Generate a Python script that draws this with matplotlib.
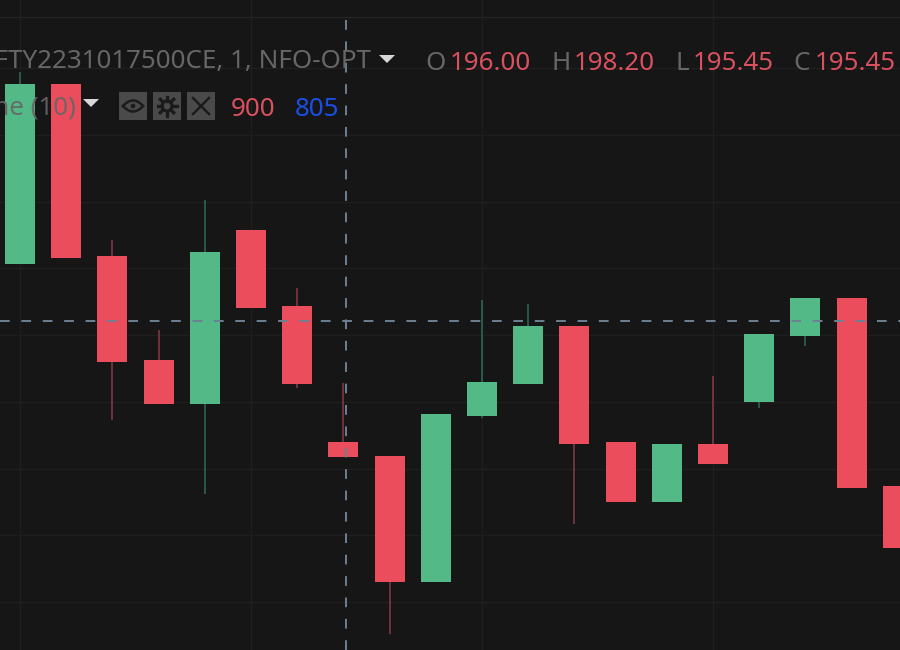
import numpy as np
import matplotlib
matplotlib.use("Agg")
import matplotlib.pyplot as plt
from matplotlib.patches import Rectangle, Polygon, Circle

plt.rcParams['font.family'] = ['Noto Sans', 'DejaVu Sans']

# candle values
opens  = [202.67, 209.41, 202.97, 199.07, 197.42, 203.94, 201.09, 196.00, 195.48, 190.76,
          196.97, 198.17, 200.34, 196.00, 193.75, 195.93, 197.50, 199.97, 201.39, 194.35]
highs  = [209.86, 209.41, 203.57, 200.19, 205.06, 203.94, 201.77, 198.20, 195.48, 197.05,
          201.32, 201.17, 200.34, 196.00, 195.93, 198.47, 200.04, 201.39, 201.39, 194.35]
lows   = [202.67, 202.89, 196.82, 197.42, 194.05, 201.02, 198.02, 195.45, 188.81, 190.76,
          196.90, 198.17, 192.93, 193.75, 193.75, 195.18, 197.27, 199.60, 194.28, 192.03]
closes = [209.41, 202.89, 199.00, 197.42, 203.12, 201.02, 198.17, 195.45, 190.76, 197.05,
          198.25, 200.34, 195.93, 193.75, 195.93, 195.18, 200.04, 201.39, 194.28, 192.03]

cross_index = 7.05
cross_price = 200.53

BG = '#161616'
GRID = '#1f1f1f'
UP = '#53b987'
DOWN = '#eb4d5c'
UP_WICK = '#2f6b55'
DOWN_WICK = '#8a3a45'
GREY = '#666666'
LABEL_RED = '#d9505f'
BLUE = '#1a4fe6'

fig = plt.figure(figsize=(9, 6.5), dpi=100, facecolor=BG)
ax = fig.add_axes([0, 0, 1, 1], facecolor=BG)

x = np.arange(len(opens))
o, h, l, c = map(np.array, (opens, highs, lows, closes))
up = c >= o
colors = [UP if u else DOWN for u in up]
wick_colors = [UP_WICK if u else DOWN_WICK for u in up]

# grid
ax.set_xticks(np.arange(0, 20, 5))
ax.set_yticks(np.arange(190, 212, 2.5))
ax.grid(True, color=GRID, lw=1)
ax.set_axisbelow(True)
ax.tick_params(length=0, labelbottom=False, labelleft=False)
for s in ax.spines.values():
    s.set_visible(False)

ax.vlines(x, l, h, colors=wick_colors, lw=1.1, zorder=2)
ax.bar(x, np.abs(c - o), bottom=np.minimum(o, c), width=0.65, color=colors, lw=0, zorder=3)

ax.set_xlim(-20 / 46.2, 880 / 46.2)
ax.set_ylim(196 - 208 / 26.7, 196 + 442 / 26.7)

# crosshair, the vertical part stops at the top border line
cross = '#6d8093'
ax.axvline(cross_index, ymax=1 - 16.5 / 650, color=cross, lw=1.4, dashes=(5, 6), zorder=4)
ax.axhline(cross_price, color=cross, lw=1.4, dashes=(5, 6), zorder=4)

# legend overlay, in pixel coordinates of the 900x650 picture
ov = fig.add_axes([0, 0, 1, 1], facecolor='none')
ov.set_xlim(0, 900)
ov.set_ylim(650, 0)
ov.axis('off')

ov.plot([0, 900], [16.5, 16.5], color='#242424', lw=1, zorder=1)

ov.text(371, 61.5, 'NIFTY2231017500CE, 1, NFO-OPT', color=GREY, fontsize=18.7, ha='right', va='center')
ov.text(76, 108, 'Volume (10)', color=GREY, fontsize=18.7, ha='right', va='center', alpha=0.9)
ov.add_patch(Polygon([(379, 55), (395, 55), (387, 63)], color='#d8d8d8', lw=0))
ov.add_patch(Polygon([(83, 99), (99, 99), (91, 107)], color='#d8d8d8', lw=0))

for lab, val, lx, vx in [('O', '196.00', 425, 450), ('H', '198.20', 551, 574),
                         ('L', '195.45', 675, 693), ('C', '195.45', 793, 815)]:
    ov.text(lx, 64, lab, color=GREY, fontsize=18.7, ha='left', va='center')
    ov.text(vx, 64, val, color=LABEL_RED, fontsize=18.7, ha='left', va='center')

ov.text(231, 109, '900', color=LABEL_RED, fontsize=18.7, ha='left', va='center')
ov.text(295, 109, '805', color=BLUE, fontsize=18.7, ha='left', va='center')

# icon buttons
for bx in (119, 153, 187):
    ov.add_patch(Rectangle((bx, 92), 28, 28, color='#4a4a4a', lw=0))
ic = '#1b1b1b'
t = np.linspace(-1, 1, 50)
ov.plot(133 + 10 * t, 106 - 5.5 * (1 - t ** 2), color=ic, lw=1.8)
ov.plot(133 + 10 * t, 106 + 5.5 * (1 - t ** 2), color=ic, lw=1.8)
ov.add_patch(Circle((133, 106), 2.4, color=ic, lw=0))
ov.add_patch(Circle((167, 106), 5, fill=False, ec=ic, lw=2.2))
for a in np.arange(0, 2 * np.pi, np.pi / 4):
    ov.plot([167 + 5.5 * np.cos(a), 167 + 9.5 * np.cos(a)],
            [106 + 5.5 * np.sin(a), 106 + 9.5 * np.sin(a)], color=ic, lw=2.4)
ov.plot([193, 209], [98, 114], color=ic, lw=1.8)
ov.plot([193, 209], [114, 98], color=ic, lw=1.8)

fig.savefig('out.png', dpi=100, facecolor=BG)
